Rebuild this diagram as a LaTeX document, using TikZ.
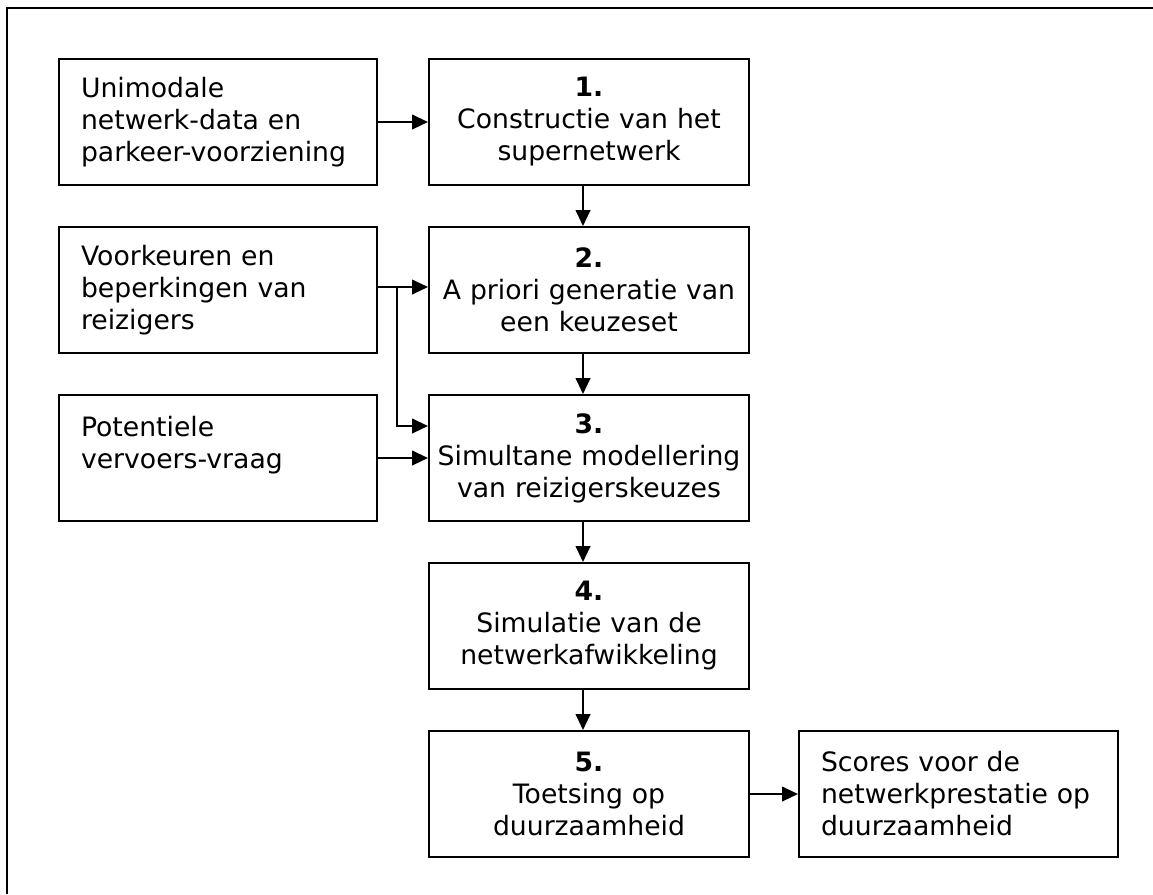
\documentclass[tikz,border=0pt]{standalone}
\usepackage{fontspec}
\setmainfont{DejaVu Sans}
\usepackage{tikz}
\usetikzlibrary{positioning, arrows.meta}
\tikzstyle{Arrow} = [
    line width = 1.5pt,
    -{Triangle[length=12pt, width=11pt]}
]

\begin{document}
\begin{tikzpicture}[
inbox/.style={
    draw,
    line width = 1.5pt,
    rectangle,
    minimum height = 94.5pt,
    font = \fontsize{20}{24}\selectfont
    },
leftbox/.style={
    inbox,
    inner xsep = 16.5pt,
    text width = 205.5pt,
    align = left
    },
stepbox/.style={
    inbox,
    inner xsep = 0pt,
    text width = 240pt,
    align = center
    }
]

\useasboundingbox (0,0) rectangle (864.75pt,-670.5pt);
\draw[line width=2pt] (5.25pt,-670.5pt) -- (5.25pt,-6pt) -- (864.75pt,-6pt);

% steps
\node [stepbox, anchor=north west] (s1) at (321pt,-43.5pt) {
    \textbf{1.}\\Constructie van het\\supernetwerk
};
\node [stepbox, below = 30pt of s1] (s2) {
    \textbf{2.}\\A priori generatie van\\een keuzeset
};
\node [stepbox, below = 30pt of s2] (s3) {
    \textbf{3.}\\Simultane modellering\\van reizigerskeuzes
};
\node [stepbox, below = 30pt of s3] (s4) {
    \textbf{4.}\\Simulatie van de\\netwerkafwikkeling
};
\node [stepbox, below = 30pt of s4] (s5) {
    \textbf{5.}\\Toetsing op\\duurzaamheid
};

% inputs and output
\node [leftbox, left = 37.5pt of s1] (net) {
    Unimodale\\netwerk-data en\\parkeer-voorziening
};
\node [leftbox, left = 37.5pt of s2] (pref) {
    Voorkeuren en\\beperkingen van\\reizigers
};
\node [leftbox, left = 37.5pt of s3] (demand) {
    Potentiele\\vervoers-vraag\\\mbox{}
};
\node [leftbox, right = 36pt of s5, text width = 206.25pt] (score) {
    Scores voor de\\netwerkprestatie op\\duurzaamheid
};

\draw[Arrow] (net.east) -- (s1.west);
\draw[Arrow] ([yshift=2.25pt]pref.east) -- ([yshift=2.25pt]s2.west);
\draw[Arrow] (demand.east) -- (s3.west);
\draw[Arrow] (s5.east) -- (score.west);

\coordinate [right = 14.25pt of pref.east, yshift=2.25pt] (split);
\draw[Arrow] (split) |- ([yshift=-24pt]s3.north west);

\foreach \a/\b in {s1/s2, s2/s3, s3/s4, s4/s5}
    \draw[Arrow] ([xshift=-4.5pt]\a.south) -- ([xshift=-4.5pt]\b.north);

\end{tikzpicture}
\end{document}
